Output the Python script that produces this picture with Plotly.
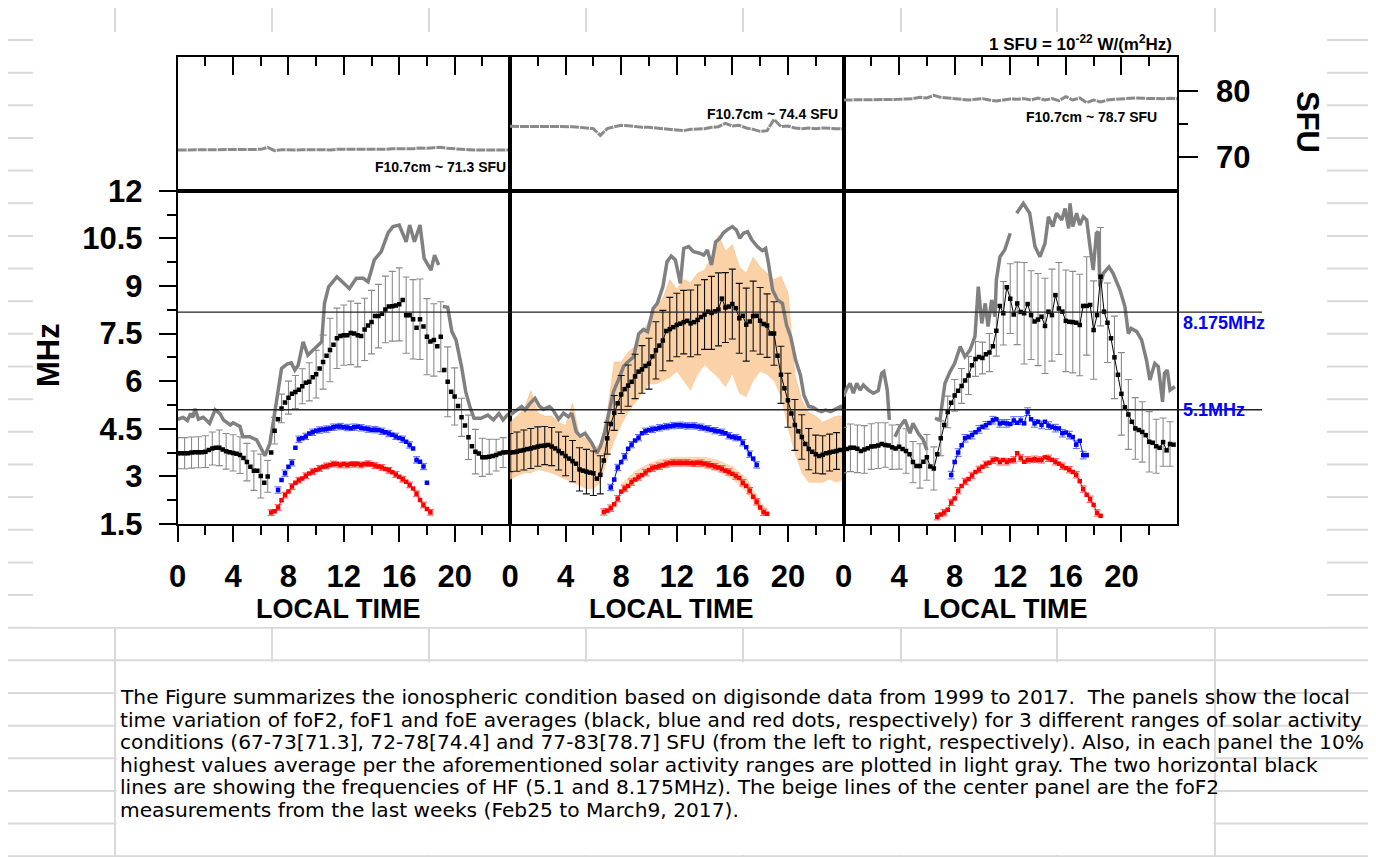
import plotly.graph_objects as go

W, H = 1376, 857
OFF = 8  # page body margin of the browser

# ---------------- axis values / labels ----------------
X_MAJOR = [0, 4, 8, 12, 16, 20]
X_MAJOR_TEXT = ['0', '4', '8', '12', '16', '20']
X_EDGE = [0, 4, 8, 12, 16, 20, 24]
X_MINOR = [2, 6, 10, 14, 18, 22]
MHZ_TICKS = [1.5, 3, 4.5, 6, 7.5, 9, 10.5, 12]
MHZ_LABELS = ['1.5', '3', '4.5', '6', '7.5', '9', '10.5', '12']
MHZ_MINOR = [2.25, 3.75, 5.25, 6.75, 8.25, 9.75, 11.25]
SFU_TICKS = [70, 80]
SFU_MINOR = [75]
HF_FREQS = [8.175, 5.1]
HF_LABELS = ['8.175MHz', '5.1MHz']
SFU_MEAN_LABELS = ['F10.7cm ~ 71.3 SFU', 'F10.7cm ~ 74.4 SFU', 'F10.7cm ~ 78.7 SFU']

HOURS_F2 = [q / 4 for q in range(96)]      # 15-min local-time grid
HOURS_SFU = [q / 2 for q in range(49)]     # 30-min grid

# ---------------- foF2 averages (MHz) ----------------
FOF2_L = [3.73, 3.73, 3.73, 3.73, 3.75, 3.76, 3.76, 3.76,
          3.78, 3.83, 3.88, 3.9, 3.9, 3.85, 3.79, 3.76,
          3.74, 3.71, 3.67, 3.58, 3.45, 3.3, 3.18, 3.18,
          3.01, 2.8, 3.0, 3.75, 4.44, 4.8, 5.14, 5.33,
          5.48, 5.6, 5.66, 5.73, 5.84, 5.95, 5.98, 6.12,
          6.22, 6.4, 6.6, 6.8, 6.98, 7.15, 7.35, 7.42,
          7.45, 7.45, 7.52, 7.5, 7.45, 7.42, 7.63, 7.75,
          7.86, 8.05, 8.05, 8.12, 8.26, 8.35, 8.36, 8.38,
          8.42, 8.56, 8.08, 8.08, 7.95, 7.68, 7.95, 7.72,
          7.4, 7.25, 7.3, 7.1, 7.4, 6.35, 5.98, 5.67,
          5.52, 5.22, 4.86, 4.6, 4.23, 3.95, 3.78, 3.72,
          3.6, 3.6, 3.62, 3.64, 3.67, 3.72, 3.75, 3.76]
FOF2_M = [3.75, 3.76, 3.78, 3.81, 3.83, 3.86, 3.88, 3.91,
          3.94, 3.96, 3.97, 3.99, 3.94, 3.88, 3.8, 3.73,
          3.64, 3.56, 3.48, 3.4, 3.22, 3.18, 3.15, 3.12,
          3.1, 2.93, 3.05, 3.5, 4.2, 4.65, 5.0, 5.3,
          5.58, 5.75, 5.86, 5.98, 6.15, 6.3, 6.37, 6.48,
          6.55, 6.78, 6.97, 7.12, 7.28, 7.58, 7.64, 7.7,
          7.77, 7.81, 7.86, 7.9, 7.82, 7.86, 7.93, 8.02,
          8.1, 8.19, 8.15, 8.2, 8.26, 8.6, 8.32, 8.35,
          8.43, 8.3, 7.98, 8.06, 7.78, 7.88, 8.05, 8.06,
          7.9, 7.8, 7.75, 7.5, 7.5, 6.8, 6.2, 5.78,
          5.4, 4.98, 4.62, 4.42, 4.24, 4.02, 3.86, 3.78,
          3.7, 3.64, 3.68, 3.73, 3.75, 3.78, 3.8, 3.83]
FOF2_R = [3.83, 3.86, 3.9, 3.9, 3.87, 3.8, 3.85, 3.89,
          3.94, 3.95, 3.97, 4.02, 3.99, 3.97, 3.92, 3.88,
          3.93, 3.86, 3.8, 3.7, 3.45, 3.33, 3.33, 3.46,
          3.6, 3.31, 3.25, 3.7, 4.2, 4.62, 5.03, 5.32,
          5.55, 5.7, 5.85, 6.02, 6.18, 6.5, 6.7, 6.76,
          6.73, 6.85, 6.9, 7.1, 7.59, 8.37, 8.14, 8.96,
          8.6, 8.1, 8.45, 8.18, 8.14, 8.43, 8.08, 7.88,
          7.94, 8.03, 7.74, 8.19, 8.08, 8.71, 8.29, 8.19,
          7.9, 7.87, 7.86, 7.84, 7.77, 8.37, 8.37, 8.4,
          7.61, 8.08, 9.29, 8.19, 7.84, 7.35, 6.75, 6.2,
          5.6, 5.18, 4.95, 4.72, 4.51, 4.46, 4.4, 4.3,
          4.09, 4.06, 3.95, 3.9, 4.08, 3.82, 4.02, 4.0]

# foF2 error half-widths every 30 min (MHz)
FOF2_ERR_L = [0.49, 0.49, 0.49, 0.49, 0.5, 0.52, 0.56, 0.56, 0.57, 0.58, 0.59, 0.62,
              0.69, 0.5, 0.42, 0.45, 0.52, 0.52, 0.55, 0.6, 0.75, 0.85, 1.0, 0.95,
              0.95, 1.0, 1.0, 0.98, 1.0, 1.0, 1.05, 1.1, 1.15, 1.2, 1.25, 1.27,
              1.2, 1.14, 1.1, 1.1, 0.9, 0.6, 0.7, 0.7, 0.6, 0.55, 0.5, 0.47]
FOF2_ERR_M = [0.6, 0.62, 0.63, 0.63, 0.62, 0.6, 0.6, 0.6, 0.62, 0.65, 0.68, 0.7,
              0.7, 0.6, 0.5, 0.55, 0.6, 0.65, 0.7, 0.75, 0.8, 0.9, 0.95, 1.0,
              1.0, 1.0, 1.05, 1.1, 1.1, 1.15, 1.15, 1.1, 1.1, 1.1, 1.15, 1.1,
              1.05, 1.0, 1.0, 0.9, 0.85, 0.8, 0.7, 0.65, 0.6, 0.6, 0.58, 0.58]
FOF2_ERR_R = [0.72, 0.75, 0.75, 0.75, 0.72, 0.72, 0.7, 0.7, 0.7, 0.7, 0.65, 0.7,
              0.72, 0.68, 0.55, 0.5, 0.5, 0.55, 0.6, 0.55, 0.5, 0.6, 0.8, 1.0,
              1.1, 1.3, 1.6, 1.4, 1.45, 1.5, 1.45, 1.45, 1.6, 1.6, 1.6, 1.55,
              1.55, 1.55, 1.25, 1.3, 1.3, 1.1, 0.97, 0.95, 0.95, 0.85, 0.76, 0.7]

# ---------------- foF1 / foE averages (MHz), 15-min steps ----------------
FOF1_START = [7.25, 7.25, 7.75]
FOF1_L = [2.57, 2.89, 3.1, 3.3, 3.43, 3.9, 4.17, 4.2, 4.26, 4.35, 4.39, 4.44, 4.46, 4.48,
          4.49, 4.51, 4.55, 4.57, 4.57, 4.55, 4.54, 4.52, 4.55, 4.56, 4.53, 4.51, 4.49,
          4.47, 4.47, 4.46, 4.42, 4.39, 4.35, 4.31, 4.26, 4.21, 4.17, 4.09, 3.99, 3.88,
          3.52, 3.46, 3.31, 2.8]
FOF1_M = [2.65, 2.9, 3.28, 3.45, 3.62, 3.87, 4.0, 4.13, 4.22, 4.36, 4.42, 4.46, 4.48, 4.5,
          4.53, 4.55, 4.57, 4.58, 4.6, 4.61, 4.61, 4.6, 4.59, 4.59, 4.59, 4.57, 4.55, 4.52,
          4.5, 4.47, 4.44, 4.42, 4.39, 4.36, 4.28, 4.24, 4.22, 4.2, 4.06, 3.92, 3.7, 3.56,
          3.36]
FOF1_R = [3.04, 3.45, 3.75, 3.98, 4.2, 4.24, 4.3, 4.39, 4.48, 4.56, 4.61, 4.68, 4.77, 4.8,
          4.67, 4.69, 4.67, 4.65, 4.76, 4.69, 4.76, 4.67, 5.04, 4.8, 4.67, 4.72, 4.62, 4.72,
          4.6, 4.56, 4.52, 4.51, 4.36, 4.38, 4.3, 4.24, 4.0, 4.12, 3.67, 3.67]
FOE_START = [6.75, 6.75, 6.75]
FOE_L = [1.86, 1.9, 2.02, 2.25, 2.41, 2.52, 2.68, 2.8, 2.88, 2.93, 3.02, 3.09, 3.15, 3.2,
         3.25, 3.3, 3.33, 3.36, 3.39, 3.39, 3.36, 3.39, 3.36, 3.39, 3.38, 3.39, 3.36, 3.39,
         3.4, 3.38, 3.34, 3.31, 3.28, 3.23, 3.19, 3.13, 3.06, 2.99, 2.91, 2.83, 2.73, 2.62,
         2.45, 2.26, 2.1, 1.97, 1.87]
FOE_M = [1.88, 1.92, 2.0, 2.12, 2.3, 2.52, 2.62, 2.7, 2.82, 2.9, 2.98, 3.04, 3.12, 3.2,
         3.26, 3.29, 3.32, 3.35, 3.39, 3.42, 3.43, 3.43, 3.43, 3.43, 3.43, 3.42, 3.41, 3.43,
         3.42, 3.4, 3.37, 3.35, 3.31, 3.28, 3.24, 3.18, 3.14, 3.08, 3.01, 2.95, 2.8, 2.7,
         2.55, 2.36, 2.2, 2.02, 1.87, 1.82]
FOE_R = [1.73, 1.8, 1.86, 1.95, 2.18, 2.3, 2.55, 2.7, 2.84, 2.92, 3.03, 3.14, 3.22, 3.3,
         3.38, 3.43, 3.51, 3.54, 3.46, 3.52, 3.46, 3.5, 3.52, 3.73, 3.58, 3.46, 3.52, 3.52,
         3.54, 3.52, 3.52, 3.6, 3.57, 3.52, 3.46, 3.4, 3.32, 3.26, 3.21, 3.14, 3.05, 2.85,
         2.6, 2.42, 2.28, 2.1, 1.85, 1.76]
FOF1_ERR = [0.1, 0.1, 0.12]
FOE_ERR = [0.09, 0.1, 0.1]

# ---------------- 10% highest foF2 (gray lines) ----------------
GRAY_L_T = [0, 0.4, 0.7, 0.94, 1.1, 1.25, 1.5, 1.85, 2.3, 2.7, 3.05, 3.3, 3.8, 4.0, 4.5, 4.7,
            5.2, 5.7, 6.3, 6.66, 7.0, 7.26, 7.5, 7.9, 8.2, 8.46, 8.7, 9.06, 9.4, 9.9, 10.4,
            10.6, 10.9, 11.5, 11.9, 12.4, 12.9, 13.4, 13.75, 14.2, 14.7, 15.2, 15.55, 16.0,
            16.5, 16.75, 17.1, 17.5, 17.8, 18.3, 18.55, 18.85, 19.0, 19.15, 19.5, 19.8, 20.1,
            20.5, 20.8, 21.1, 21.4, 21.9, 22.4, 22.8, 23.2, 23.5, 23.8, 24]
GRAY_L_V = [4.8, 4.86, 4.76, 4.98, 4.86, 5.13, 4.8, 4.86, 4.67, 5.1, 4.98, 4.78, 4.62, 4.69,
            4.57, 4.25, 4.25, 4.15, 3.65, 4.04, 4.98, 5.72, 6.4, 6.54, 6.58, 6.35, 6.5, 7.24,
            6.82, 7.03, 7.24, 8.45, 8.97, 9.29, 9.13, 8.92, 9.24, 9.24, 9.13, 9.82, 10.08,
            10.68, 10.87, 10.92, 10.39, 10.92, 10.39, 10.92, 9.87, 9.5, 9.97, 9.66, None,
            8.35, 8.33, 7.56, 7.3, 6.46, 5.67, 5.2, 4.83, 4.83, 4.93, 4.78, 4.98, 4.78, 4.93,
            4.98]
GRAY_M_T = [0, 0.48, 0.84, 1.08, 1.44, 1.8, 2.1, 2.4, 2.84, 3.1, 3.5, 3.85, 4.2, 4.45, 4.76,
            5.05, 5.4, 5.65, 5.9, 6.25, 6.5, 6.8, 7.1, 7.45, 7.8, 8.17, 8.5, 8.9, 9.26, 9.6,
            9.9, 10.3, 10.6, 11.0, 11.3, 11.6, 11.9, 12.26, 12.5, 12.86, 13.2, 13.6, 13.94,
            14.2, 14.5, 14.8, 15.1, 15.33, 15.6, 16.0, 16.3, 16.54, 16.8, 17.1, 17.4, 17.8,
            18.15, 18.4, 18.6, 18.9, 19.25, 19.6, 19.9, 20.2, 20.55, 20.9, 21.15, 21.5, 21.8,
            22.1, 22.4, 22.7, 23.08, 23.4, 23.8, 24]
GRAY_M_V = [4.93, 5.09, 5.2, 5.09, 5.3, 5.46, 5.22, 5.11, 5.2, 5.09, 4.8, 4.99, 4.88, 4.99,
            4.41, 4.27, 4.36, 4.2, 4.04, 3.73, 3.94, 4.36, 4.93, 5.67, 6.04, 6.46, 6.61, 6.77,
            7.49, 7.63, 7.56, 8.29, 8.45, 8.97, 9.76, 9.94, 9.82, 9.08, 10.18, 10.24, 10.08,
            10.04, 9.97, 10.13, 9.66, 10.39, 10.5, 10.66, 10.76, 10.87, 10.76, 10.5, 10.66,
            10.71, 10.45, 10.24, 10.11, 10.18, 9.71, 8.87, 8.56, 8.45, 7.77, 7.4, 6.67, 6.19,
            5.56, 5.2, 5.18, 5.09, 5.04, 5.09, 5.04, 5.11, 5.2, 5.09]
GRAY_R_T = [0, 0.23, 0.47, 0.71, 0.95, 1.19, 1.43, 1.79, 2.15, 2.5, 2.75, 2.9, 3.15, 3.3, 3.5,
            3.7, 4.06, 4.42, 4.78, 5.0, 5.38, 5.74, 6.0, 6.3,
            6.58, 6.94, 7.3, 7.67, 8.0, 8.4, 8.74, 9.1, 9.46, 9.7, 9.95, 10.2, 10.4, 10.66,
            10.9, 11.0, 11.26, 11.6, 12.0, 12.2,
            12.46, 12.94, 13.4, 13.78, 14.14, 14.5, 14.75, 15.06, 15.33, 15.7, 15.95, 16.2,
            16.3, 16.5, 16.78, 17.0, 17.26, 17.5, 17.74, 17.97, 18.2, 18.33, 18.45, 18.7,
            19.1, 19.4, 19.9, 20.25, 20.5, 20.7, 21.1, 21.45, 21.8, 22.05, 22.4, 22.65,
            22.96, 23.1, 23.3, 23.5, 23.85]
GRAY_R_V = [5.51, 5.77, 5.93, 5.62, 5.93, 5.72, 5.88, 5.72, 5.62, 5.7, 6.25, 6.3, 5.72, 4.78,
            None,
            4.25, 4.57, 4.78, 4.36, 4.67, 4.36, 4.15, 3.83, None,
            4.83, 4.78, 5.93, 6.3, 6.56, 7.09, 6.77, 6.98, 7.4, 8.98, 7.82, 8.45, 7.72, 8.56,
            8.03, 9.19, 9.92, 10.13, 10.66, None,
            11.29, 11.6, 11.29, 10.24, 9.92, 10.34, 11.18, 10.87, 11.29, 11.08, 11.44, 10.81,
            11.6, 10.87, 11.29, 10.92, 11.18, 11.08, 10.24, 9.5, 10.66, 10.71, 8.98, 9.4,
            9.6, 9.4, 8.87, 8.35, 7.5, 7.66, 7.56, 7.3, 6.67, 6.04, 6.56, 6.46, 5.35, 6.25,
            6.35, 5.72, 5.83]

# ---------------- last-weeks foF2 measurements (beige, centre panel) ----------------
BEIGE_F2_UP = [4.7, 4.9, 5.1, 5.7, 5.0, 4.9, 4.9, 4.7, 4.6, 5.3, 4.3, 4.2,
               3.9, 4.0, 5.0, 6.6, 6.6, 6.9, 7.1, 7.5, 7.9, 8.4, 8.6, 9.2,
               8.9, 9.2, 9.1, 9.4, 9.5, 9.9, 10.6, 10.1, 10.3, 9.6, 9.4, 9.9,
               9.6, 9.4, 9.2, 9.3, 8.8, 6.2, 5.4, 5.0, 4.9, 4.7, 4.8, 4.9,
               4.9]
BEIGE_F2_LO = [2.9, 3.0, 3.1, 3.1, 3.2, 3.15, 3.1, 3.0, 2.9, 2.8, 2.7, 2.6,
               2.6, 2.8, 3.5, 4.1, 4.6, 5.0, 5.3, 5.6, 5.9, 5.9, 6.0, 6.1,
               6.3, 6.0, 5.7, 6.2, 6.5, 6.3, 6.1, 5.8, 6.2, 5.6, 5.5, 6.0,
               6.3, 6.2, 6.0, 5.5, 4.5, 3.7, 3.1, 2.8, 2.8, 2.8, 2.9, 2.8,
               2.9]
BEIGE_E_T = [8.0, 9, 10, 11, 12, 13, 14, 15, 16, 17, 18, 18.5]
BEIGE_E_UP = [2.75, 3.15, 3.4, 3.55, 3.6, 3.6, 3.6, 3.5, 3.3, 2.95, 2.2, 1.95]
BEIGE_E_LO = [2.4, 2.8, 3.1, 3.25, 3.3, 3.3, 3.25, 3.15, 2.9, 2.5, 1.85, 1.75]

# ---------------- F10.7 (SFU), 30-min steps ----------------
SFU_L = [71.1, 71.1, 71.1, 71.1, 71.1, 71.1, 71.15, 71.1, 71.1, 71.15, 71.2, 71.2,
         71.2, 71.5, 71.0, 71.15, 71.1, 71.1, 71.15, 71.1, 71.15, 71.15, 71.1, 71.2,
         71.2, 71.15, 71.25, 71.15, 71.2, 71.25, 71.2, 71.3, 71.3, 71.2, 71.3, 71.4,
         71.35, 71.45, 71.5, 71.35, 71.25, 71.15, 71.15, 71.1, 71.1, 71.1, 71.1, 71.1,
         71.1]
SFU_M = [74.65, 74.65, 74.65, 74.65, 74.65, 74.65, 74.65, 74.6, 74.65, 74.6, 74.5, 74.4,
         74.3, 73.3, 74.3, 74.6, 74.8, 74.75, 74.6, 74.5, 74.5, 74.4, 74.3, 74.3,
         74.1, 74.0, 74.2, 74.2, 74.3, 74.5, 74.6, 75.1, 74.7, 74.8, 74.4, 74.2,
         73.9, 74.0, 75.7, 74.6, 74.7, 74.4, 74.3, 74.4, 74.3, 74.4, 74.3, 74.3,
         74.3]
SFU_R = [78.6, 78.6, 78.6, 78.6, 78.6, 78.6, 78.6, 78.65, 78.7, 78.75, 78.8, 79.0,
         78.9, 79.3, 79.0, 78.9, 78.8, 78.7, 78.6, 78.7, 78.8, 78.6, 78.45, 78.6,
         78.75, 78.7, 78.8, 78.6, 78.9, 78.6, 78.8, 78.5, 79.1, 78.6, 78.9, 78.2,
         78.6, 78.3, 78.6, 78.7, 78.8, 78.85, 78.9, 78.85, 78.8, 78.75, 78.8, 78.85,
         78.8]

DESC_LINES = [
    "The Figure summarizes the ionospheric condition based on digisonde data from 1999 to 2017.  The panels show the local",
    "time variation of foF2, foF1 and foE averages (black, blue and red dots, respectively) for 3 different ranges of solar activity",
    "conditions (67-73[71.3], 72-78[74.4] and 77-83[78.7] SFU (from the left to right, respectively). Also, in each panel the 10%",
    "highest values average per the aforementioned solar activity ranges are plotted in light gray. The two horizontal black",
    "lines are showing the frequencies of HF (5.1 and 8.175MHz). The beige lines of the center panel are the foF2",
    "measurements from the last weeks (Feb25 to March9, 2017).",
]


# ---------------- geometry helpers (page pixels -> paper) ----------------
def PXX(p):
    return (p - OFF) / W


def PXY(p):
    return 1 - (p - OFF) / H


PANEL_PX = [(177.7, 510.0), (510.0, 843.5), (843.5, 1177.0)]
TOP_PX = (57.3, 190.7)
BOT_PX = (190.7, 524.0)

FONT = 'Liberation Sans, Arial, sans-serif'
GRID = '#d9d9d9'


def ax(n):
    return '' if n == 1 else str(n)


fig = go.Figure()

panels = [
    dict(f2=FOF2_L, f2err=FOF2_ERR_L, gt=GRAY_L_T, gv=GRAY_L_V, f1=FOF1_L, e=FOE_L, sfu=SFU_L,
         errc='#8a8a8a', f2line=False, f1line=False),
    dict(f2=FOF2_M, f2err=FOF2_ERR_M, gt=GRAY_M_T, gv=GRAY_M_V, f1=FOF1_M, e=FOE_M, sfu=SFU_M,
         errc='#111111', f2line=True, f1line=True),
    dict(f2=FOF2_R, f2err=FOF2_ERR_R, gt=GRAY_R_T, gv=GRAY_R_V, f1=FOF1_R, e=FOE_R, sfu=SFU_R,
         errc='#8a8a8a', f2line=True, f1line=True),
]

for i, p in enumerate(panels):
    nt = i + 1
    nb = i + 4
    xt, yt = 'x' + ax(nt), 'y' + ax(nt)
    xb, yb = 'x' + ax(nb), 'y' + ax(nb)

    if i == 1:
        fig.add_trace(go.Scatter(x=HOURS_SFU, y=BEIGE_F2_LO, mode='lines',
                                 line=dict(width=0, color='rgba(0,0,0,0)'), xaxis=xb, yaxis=yb))
        fig.add_trace(go.Scatter(x=HOURS_SFU, y=BEIGE_F2_UP, mode='lines',
                                 line=dict(width=0.8, color='rgba(249,185,120,0.7)'),
                                 fill='tonexty', fillcolor='rgba(250,198,145,0.8)', xaxis=xb, yaxis=yb))
        fig.add_trace(go.Scatter(x=BEIGE_E_T, y=BEIGE_E_LO, mode='lines',
                                 line=dict(width=0, color='rgba(0,0,0,0)'), xaxis=xb, yaxis=yb))
        fig.add_trace(go.Scatter(x=BEIGE_E_T, y=BEIGE_E_UP, mode='lines',
                                 line=dict(width=0.8, color='rgba(249,185,120,0.6)'),
                                 fill='tonexty', fillcolor='rgba(250,205,160,0.7)', xaxis=xb, yaxis=yb))

    fig.add_trace(go.Scatter(x=p['gt'], y=p['gv'], mode='lines', connectgaps=False,
                             line=dict(color='#808080', width=3.5), xaxis=xb, yaxis=yb))

    fig.add_trace(go.Scatter(x=HOURS_F2[::2], y=p['f2'][::2][:len(p['f2err'])], mode='markers',
                             marker=dict(size=2, color='rgba(0,0,0,0)'),
                             error_y=dict(type='data', array=p['f2err'], color=p['errc'], thickness=1.1, width=3.5),
                             xaxis=xb, yaxis=yb))
    fig.add_trace(go.Scatter(x=HOURS_F2, y=p['f2'], mode='lines+markers' if p['f2line'] else 'markers',
                             line=dict(color='black', width=1),
                             marker=dict(symbol='square', size=4.5, color='black'),
                             xaxis=xb, yaxis=yb))

    h1 = [FOF1_START[i] + 0.25 * k for k in range(len(p['f1']))]
    fig.add_trace(go.Scatter(x=h1[::2], y=p['f1'][::2], mode='markers', marker=dict(size=2, color='rgba(0,0,0,0)'),
                             error_y=dict(type='constant', value=FOF1_ERR[i], color='#4f6bff', thickness=1, width=3.5),
                             xaxis=xb, yaxis=yb))
    fig.add_trace(go.Scatter(x=h1, y=p['f1'], mode='lines+markers' if p['f1line'] else 'markers',
                             line=dict(color='#0000ff', width=1),
                             marker=dict(symbol='square', size=4.5, color='#0000ff'), xaxis=xb, yaxis=yb))
    he = [FOE_START[i] + 0.25 * k for k in range(len(p['e']))]
    fig.add_trace(go.Scatter(x=he[::2], y=p['e'][::2], mode='markers', marker=dict(size=2, color='rgba(0,0,0,0)'),
                             error_y=dict(type='constant', value=FOE_ERR[i], color='#ff5050', thickness=1, width=3.5),
                             xaxis=xb, yaxis=yb))
    fig.add_trace(go.Scatter(x=he, y=p['e'], mode='lines+markers',
                             line=dict(color='#ff0000', width=1),
                             marker=dict(symbol='square', size=4.5, color='#ff0000'), xaxis=xb, yaxis=yb))

    fig.add_trace(go.Scatter(x=HOURS_SFU, y=p['sfu'], mode='lines',
                             line=dict(color='#8a8a8a', width=3, dash='9px,1px'), xaxis=xt, yaxis=yt))

# ---------------- axes ----------------
layout = dict(width=W, height=H, margin=dict(l=0, r=0, t=0, b=0, autoexpand=False),
              paper_bgcolor='white', plot_bgcolor='rgba(0,0,0,0)', showlegend=False,
              template='none', hovermode=False)

tick_font = dict(family=FONT, size=31, color='black', weight='bold')
frame = dict(showline=True, linewidth=1.8, linecolor='black', mirror=True, showgrid=False,
             zeroline=False, fixedrange=True)

for i in range(3):
    xd = [PXX(PANEL_PX[i][0]), PXX(PANEL_PX[i][1])]
    nt, nb, no = i + 1, i + 4, i + 7
    layout['xaxis' + ax(nt)] = dict(domain=xd, range=[0, 24], anchor='y' + ax(nt), side='top',
                                    ticks='inside', tickmode='array', tickvals=X_EDGE, ticklen=18,
                                    tickwidth=2, tickcolor='black', showticklabels=False,
                                    minor=dict(tickmode='array', tickvals=X_MINOR, ticks='inside',
                                               ticklen=9, tickwidth=2, tickcolor='black'),
                                    **frame)
    ytop = dict(domain=[PXY(TOP_PX[1]), PXY(TOP_PX[0])], range=[65, 85], anchor='x' + ax(nt), **frame)
    if i == 2:
        ytop.update(side='right', ticks='outside', tickmode='array', tickvals=SFU_TICKS,
                    ticktext=[str(v) for v in SFU_TICKS], ticklen=19, tickwidth=2, tickcolor='black',
                    tickfont=dict(family=FONT, size=31, color='black', weight='bold'),
                    ticklabelstandoff=12,
                    minor=dict(tickmode='array', tickvals=SFU_MINOR, ticks='outside', ticklen=9,
                               tickwidth=2, tickcolor='black'))
    else:
        ytop.update(ticks='', showticklabels=False)
    layout['yaxis' + ax(nt)] = ytop

    layout['xaxis' + ax(nb)] = dict(domain=xd, range=[0, 24], anchor='y' + ax(nb), side='bottom',
                                    ticks='outside', tickmode='array', tickvals=X_MAJOR,
                                    ticktext=X_MAJOR_TEXT, ticklen=16, tickwidth=2, tickcolor='black',
                                    tickfont=tick_font, ticklabelstandoff=8,
                                    minor=dict(tickmode='array', tickvals=X_MINOR, ticks='outside',
                                               ticklen=9, tickwidth=2, tickcolor='black'),
                                    **frame)
    layout['xaxis' + ax(no)] = dict(domain=xd, range=[0, 24], anchor='y' + ax(nb), overlaying='x' + ax(nb),
                                    side='top', ticks='inside', tickmode='array', tickvals=X_EDGE,
                                    ticklen=18, tickwidth=2, tickcolor='black', showticklabels=False,
                                    minor=dict(tickmode='array', tickvals=X_MINOR, ticks='inside',
                                               ticklen=10, tickwidth=2, tickcolor='black'),
                                    showline=False, showgrid=False, zeroline=False, fixedrange=True)
    ybot = dict(domain=[PXY(BOT_PX[1]), PXY(BOT_PX[0])], range=[1.5, 12], anchor='x' + ax(nb), **frame)
    if i == 0:
        ybot.update(ticks='outside', tickmode='array', tickvals=MHZ_TICKS, ticktext=MHZ_LABELS,
                    ticklen=17, tickwidth=2, tickcolor='black', tickfont=tick_font, ticklabelstandoff=10,
                    minor=dict(tickmode='array', tickvals=MHZ_MINOR, ticks='outside', ticklen=9,
                               tickwidth=2, tickcolor='black'))
    else:
        ybot.update(ticks='', showticklabels=False)
    layout['yaxis' + ax(nb)] = ybot

# ---------------- spreadsheet background ----------------
shapes = []
COLS = [7, 115, 272, 429, 586, 743, 901, 1057, 1215, 1370]
ROWS = [7] + [40 + 32.65 * k for k in range(26)]
for cx in COLS:
    shapes.append(dict(type='line', xref='paper', yref='paper', x0=PXX(cx), x1=PXX(cx), y0=PXY(7), y1=PXY(870),
                       line=dict(color=GRID, width=2), layer='below'))
for ry in ROWS:
    shapes.append(dict(type='line', xref='paper', yref='paper', x0=PXX(7), x1=PXX(1390), y0=PXY(ry), y1=PXY(ry),
                       line=dict(color=GRID, width=2), layer='below'))
shapes.append(dict(type='rect', xref='paper', yref='paper', x0=PXX(33), x1=PXX(1327), y0=PXY(627), y1=PXY(32),
                   fillcolor='white', line=dict(width=0), layer='below'))
shapes.append(dict(type='rect', xref='paper', yref='paper', x0=PXX(116.5), x1=PXX(1213.5), y0=PXY(855), y1=PXY(662),
                   fillcolor='white', line=dict(width=0), layer='below'))

for f in HF_FREQS:
    shapes.append(dict(type='line', xref='paper', yref='y4', x0=PXX(177.7), x1=PXX(1262), y0=f, y1=f,
                       line=dict(color='#222222', width=1.4), layer='above'))
layout['shapes'] = shapes

# ---------------- annotations ----------------
ann = []


def bf(s, c='black'):
    return dict(family=FONT, size=s, color=c, weight='bold')


def note(text, x, y, font, xa='center', ya='middle', **kw):
    d = dict(text=text, x=PXX(x), y=PXY(y), xref='paper', yref='paper', xanchor=xa, yanchor=ya,
             showarrow=False, font=font)
    d.update(kw)
    ann.append(d)


note('MHz', 48, 355, bf(31), textangle=-90)
note('SFU', 1307, 122, bf(31), textangle=90)
for i in range(3):
    cx = (PANEL_PX[i][0] + PANEL_PX[i][1]) / 2 - 5
    note('LOCAL TIME', cx, 609, bf(27))
note('1 SFU = 10<sup>-22</sup> W/(m<sup>2</sup>Hz)', 1174, 43, bf(17), xa='right')
SFU_LABEL_POS = [(508, 167), (840, 114), (1159, 117)]
for txt, (lx, ly) in zip(SFU_MEAN_LABELS, SFU_LABEL_POS):
    note(txt, lx, ly, bf(14), xa='right')
for f, lab, ys in zip(HF_FREQS, HF_LABELS, [-11, 0]):
    ann.append(dict(text=lab, x=PXX(1181), y=f, xref='paper', yref='y4', xanchor='left', yanchor='middle',
                    yshift=ys, showarrow=False, font=bf(18, '#0000ff')))
for k, line in enumerate(DESC_LINES):
    note(line, 118, 697 + 22.6 * k, dict(family='DejaVu Sans', size=20.2, color='black'), xa='left')
layout['annotations'] = ann

fig.update_layout(**layout)
fig.write_html('out.html')
